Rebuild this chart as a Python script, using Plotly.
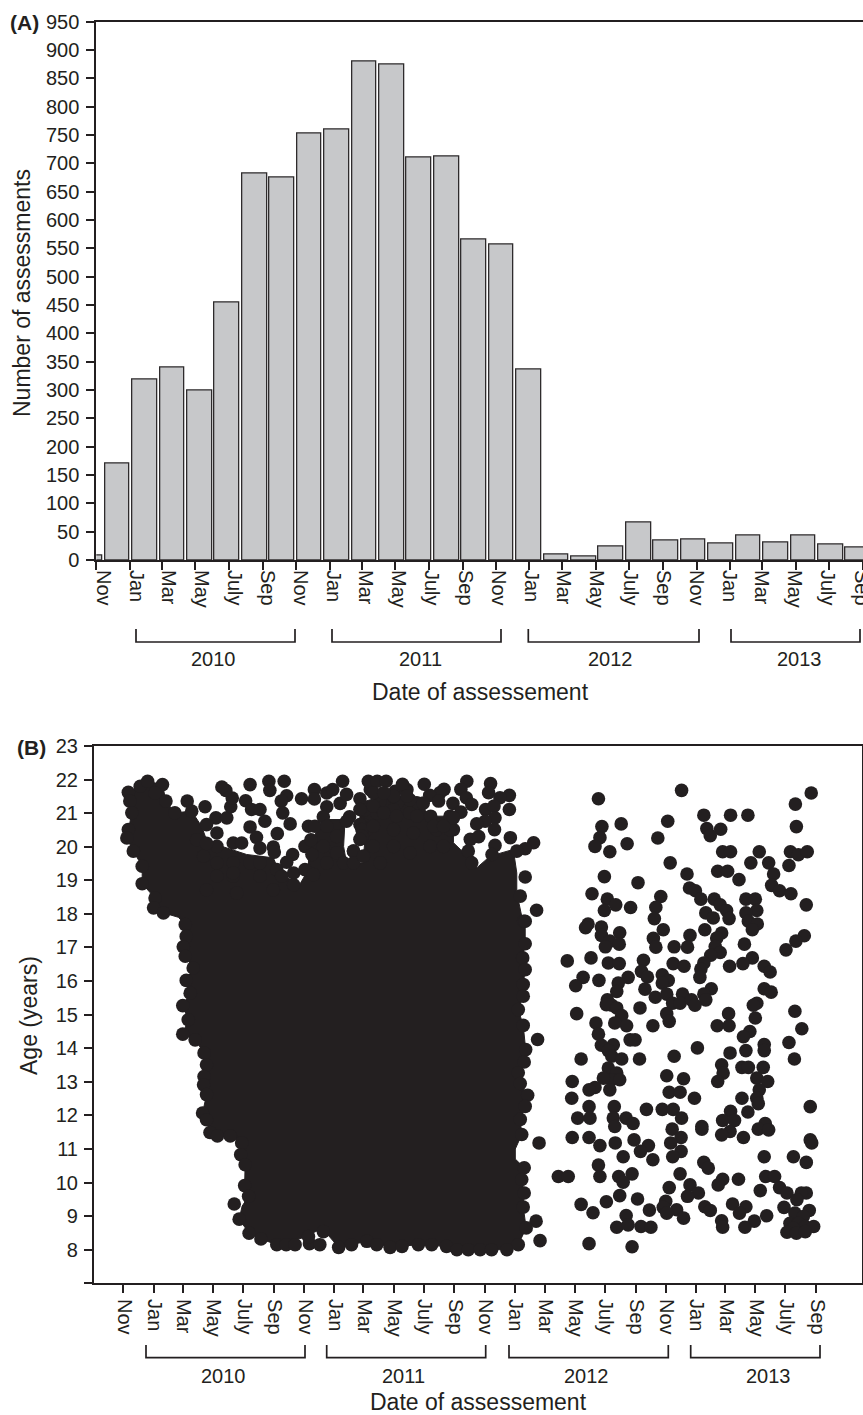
import pandas as pd
import plotly.graph_objects as go

W, H = 863, 1415
INK = "#231f20"
FONT = "Liberation Sans, Arial, sans-serif"

# ---------- Panel A: bars ----------
bar_index = list(range(29))
bar_counts = [8, 170, 318, 340, 299, 455, 682, 675, 752, 760, 880, 875, 710, 712, 566,
              556, 336, 10, 6, 23, 66, 34, 36, 29, 43, 30, 43, 27, 22]

month_tick_dates = ["2009-11-01", "2010-01-01", "2010-03-01", "2010-05-01", "2010-07-01", "2010-09-01",
                    "2010-11-01", "2011-01-01", "2011-03-01", "2011-05-01", "2011-07-01", "2011-09-01",
                    "2011-11-01", "2012-01-01", "2012-03-01", "2012-05-01", "2012-07-01", "2012-09-01",
                    "2012-11-01", "2013-01-01", "2013-03-01", "2013-05-01", "2013-07-01", "2013-09-01"]
month_tick_labels = ["Nov", "Jan", "Mar", "May", "July", "Sep",
                     "Nov", "Jan", "Mar", "May", "July", "Sep",
                     "Nov", "Jan", "Mar", "May", "July", "Sep",
                     "Nov", "Jan", "Mar", "May", "July", "Sep"]
count_ticks = list(range(0, 951, 50))
age_ticks = list(range(7, 24))
age_tick_labels = [""] + [str(a) for a in age_ticks[1:]]

# ---------- Panel B: assessments ----------
# Separately readable points after the dense block: days after 1 Jan 2012, age in years.
sparse_days = [169,337,599,567,382,436,471,309,215,176,569,388,416,172,289,395,227,162,192,420,436,494,557,573,591,
 477,513,314,554,348,410,430,523,181,453,249,519,353,365,535,558,156,376,295,187,403,467,486,415,204,589,285,234,428,181,
 489,467,386,401,282,433,472,148,143,490,175,480,212,384,300,418,175,354,408,585,568,280,464,192,211,322,349,285,548,183,
 405,415,396,106,154,260,189,211,480,320,342,382,461,434,504,376,516,256,374,138,268,298,229,170,209,123,310,298,263,206,
 397,504,518,284,307,187,339,382,386,319,334,357,364,489,482,253,196,185,206,566,125,432,216,307,486,164,
 202,226,279,312,409,433,580,169,475,462,199,175,233,243,554,369,504,504,189,435,467,322,134,196,252,216,565,418,459,472,
 502,189,421,206,307,341,489,410,116,511,196,212,179,162,150,192,494,312,334,115,459,363,489,492,201,597,150,266,298,320,
 436,471,127,152,337,225,199,420,444,239,202,506,378,378,492,318,513,435,418,116,150,462,336,241,203,597,600,172,315,270,
 254,336,219,504,563,319,279,382,391,589,169,334,172,237,210,88,108,507,525,219,420,411,452,354,312,535,496,371,349,550,
 589,579,212,248,305,185,134,570,440,467,384,544,395,300,327,454,272,307,595,158,341,225,418,509,484,566,583,206,229,255,
 275,465,420,556,573,587,604,563,550,569,587,150,237]
sparse_age = [21.43,21.68,21.6,21.27,20.94,20.94,20.94,20.76,20.68,20.6,20.6,20.54,20.52,20.27,20.26,20.33,20.09,20.01,19.85,19.85,19.85,19.85,19.85,19.76,19.85,
 19.52,19.52,19.52,19.44,19.19,19.27,19.27,19.19,19.11,19.02,18.93,18.85,18.77,18.69,18.69,18.6,18.6,18.44,18.52,18.44,18.44,18.44,18.44,18.27,18.27,18.27,18.2,18.19,18.1,18.1,
 18.1,18.03,18.03,17.88,17.86,17.86,17.78,17.7,17.59,17.7,17.61,17.53,17.44,17.53,17.53,17.43,17.36,17.36,17.28,17.35,17.19,17.27,17.1,17.19,17.1,17.02,17.01,17.01,16.93,17.02,
 17.03,16.85,16.77,16.6,16.69,16.62,16.54,16.52,16.69,16.52,16.44,16.54,16.52,16.44,16.44,16.36,16.27,16.29,16.11,16.11,16.12,16.19,16.11,16.02,15.94,15.86,16.02,15.94,15.76,15.69,
 15.77,15.77,15.67,15.52,15.61,15.44,15.61,15.61,15.44,15.34,15.34,15.44,15.28,15.34,15.28,15.2,15.28,15.3,15.2,15.1,15.03,15.03,14.97,15.03,14.9,14.75,
 14.75,14.67,14.67,14.8,14.67,14.67,14.58,14.42,14.5,14.34,14.1,14.09,14.25,14.25,14.17,14.01,14.11,13.93,13.93,13.86,13.93,13.76,13.68,13.76,13.68,13.68,13.68,13.51,13.43,13.43,
 13.43,13.41,13.26,13.26,13.18,13.09,13.11,13.01,13.01,13.01,13.06,13.06,13.11,12.83,12.76,12.76,12.76,12.69,12.69,12.51,12.51,12.51,12.51,12.35,12.26,12.26,12.26,12.18,12.18,12.18,
 12.12,12.1,11.92,11.92,11.92,11.92,11.92,11.85,11.85,11.76,11.67,11.76,11.67,11.59,11.59,11.59,11.57,11.52,11.42,11.34,11.34,11.34,11.34,11.27,11.18,11.27,11.18,11.1,11.18,11.1,
 10.93,10.93,10.77,10.77,10.77,10.77,10.68,10.6,10.43,10.6,10.52,10.26,10.18,10.26,10.18,10.18,10.18,10.18,10.18,10.01,10.1,9.93,10.1,9.93,9.85,9.85,9.76,9.69,9.59,9.69,
 9.69,9.69,9.61,9.51,9.44,9.43,9.35,9.49,9.36,9.28,9.28,9.26,9.17,9.26,9.19,9.09,9.18,9.09,9.17,9.1,8.94,9.02,8.86,9.01,8.85,9.09,8.99,8.67,8.74,8.69,
 8.67,8.67,8.67,8.79,8.79,8.69,8.69,8.64,8.52,8.49,8.54,8.18,8.09]

# Points on the fringe of the dense block: days after 1 Nov 2009, age in years.
fringe_days = [10,13,34,49,79,64,86,17,10,7,20,38,38,64,61,81,104,129,138,165,187,168,209,217,220,207,199,256,247,259,276,
 256,286,269,311,189,222,239,189,276,303,305,342,330,367,381,374,387,379,294,325,296,330,319,322,337,360,386,386,411,423,
 438,411,404,457,499,573,549,
 443,495,513,531,564,608,694,742,648,640,682,738,780,761,451,478,619,637,693,704,666,682,732,749,780,751,731,714,750,701,
 718,782,829,751,745,812,795,812,802,835,809,554,593,660,621,451,485,465,667,697,704,
 812,812,807,812,808,808,798,808,837,813,810,798,802,817,812,802,805,840,810,805,810,808,834,842,814,798,
 125,127,121,125,141,127,135,120,131,120,145,163,168,163,162,168,160,168,175,190,216,239,237,246,245,253,224,234,254,278,
 310,329,347,376,397,374,435,461,404,492,512,539,563,596,623,653,674,697,721,744,775,
 478,411,431,404,431,411,445,492,512,546,579,546,586,505,546,579,633,620,647,660,519,667,465,465,482,482,546,579,519,488,606,
 505,478,526,505,478,485,552,593,573,546,505,526,627,647,
 189,222,162,148,168,256,222,276,310,344,303,222,189,168,229,367,384,344,320,276]
fringe_age = [21.62,21.36,21.8,21.95,21.85,21.6,21.36,21.01,20.51,20.26,19.87,19.42,18.9,18.47,18.18,18.03,21.01,21.36,21.06,21.19,20.86,20.66,20.86,21.19,21.45,21.68,21.78,21.85,21.37,21.11,21.11,
 20.59,20.76,20.28,20.39,20.41,20.11,20.11,20.01,19.96,19.99,19.84,19.77,19.54,20.01,19.77,20.61,20.61,20.21,21.95,21.95,21.68,21.52,21.36,21.01,20.68,21.43,21.7,21.42,21.6,21.7,
 21.29,21.19,20.89,20.89,21.7,21.7,21.65,
 21.95,21.95,21.95,21.95,21.86,21.86,21.95,21.88,21.71,21.61,21.71,21.61,21.53,21.46,21.56,21.43,21.53,21.36,21.46,21.26,21.29,21.03,21.11,21.21,21.11,20.86,20.76,20.68,20.51,20.22,
 20.3,20.27,20.12,20.04,19.77,19.94,19.87,19.1,18.53,18.11,17.78,21.31,21.31,20.91,20.91,20.76,20.66,19.87,20.51,19.87,19.52,
 17.78,17.11,16.69,16.34,15.9,15.55,15.15,14.68,14.26,13.96,13.59,13.27,12.95,12.6,12.27,11.88,11.43,11.18,10.44,10.09,9.69,9.27,8.85,8.27,8.65,8.15,
 17.68,17.33,17.02,16.74,16.39,16.02,15.64,15.27,14.85,14.42,14.25,13.86,13.51,13.16,12.91,12.62,12.07,11.87,11.49,11.39,11.39,11.18,10.83,10.53,9.91,9.59,9.36,8.91,8.49,8.32,
 8.15,8.15,8.15,8.18,8.15,8.39,8.07,8.15,8.54,8.25,8.15,8.07,8.1,8.15,8.15,8.1,8.0,8.0,8.0,8.0,8.0,
 20.66,20.61,20.31,20.01,19.82,19.52,19.52,20.51,21.0,21.1,21.0,20.51,20.41,20.01,20.01,19.82,20.51,20.01,20.01,20.51,19.52,20.86,19.87,19.52,20.51,20.31,21.5,21.4,21.36,21.1,21.3,
 21.21,21.11,21.01,20.61,20.22,19.72,20.91,20.91,21.51,21.51,21.61,21.61,20.61,20.61,
 19.52,19.52,19.72,20.21,20.1,19.52,19.12,19.52,19.32,19.22,18.72,19.22,19.12,18.72,18.62,19.32,19.17,18.87,19.12,19.12]

# The overplotted core cannot be read point by point: its outline (days after 1 Nov 2009, age).
core_days = [10,34,49,79,86,104,138,158,168,189,249,303,313,354,374,374,404,448,445,451,485,485,489,478,478,526,573,606,613,654,667,667,681,707,714,741,788,795,795,805,
 812,812,807,812,808,808,798,808,813,810,798,802,817,812,802,805,792,792,810,805,810,808,814,798,775,680,653,596,539,492,461,435,410,390,376,374,347,329,310,278,254,234,240,253,245,246,237,239,216,190,175,168,160,168,162,163,168,163,145,120,131,120,135,127,141,125,121,127,125,111,81,61,64,38,38,20,7,10,17,13,10]
core_age = [21.62,21.8,21.95,21.85,21.36,21.01,21.06,20.61,20.21,20.06,19.77,19.67,19.32,18.82,19.32,20.01,20.81,20.81,20.01,19.52,19.52,19.72,20.32,20.71,21.31,21.51,21.51,21.31,20.91,20.91,20.51,20.12,19.92,19.72,19.37,19.72,19.92,19.22,18.63,17.93,
 17.78,17.11,16.69,16.34,15.9,15.55,15.15,14.68,13.96,13.59,13.27,12.95,12.6,12.27,11.88,11.43,11.0,10.7,10.44,10.09,9.69,9.27,8.65,8.15,8.0,8.0,8.1,8.15,8.07,8.25,8.15,8.07,8.5,8.55,8.45,8.39,8.3,8.15,8.15,8.32,8.49,8.91,9.3,9.59,9.91,10.53,10.83,11.18,11.39,11.39,11.49,11.87,12.07,12.62,12.91,13.16,13.51,13.86,14.25,14.42,14.85,15.27,15.64,16.02,16.39,16.74,17.02,17.33,17.68,17.9,18.03,18.18,18.47,18.9,19.42,19.87,20.26,20.51,21.01,21.36,21.62]

assert len(sparse_days) == len(sparse_age), (len(sparse_days), len(sparse_age))
assert len(fringe_days) == len(fringe_age), (len(fringe_days), len(fringe_age))
assert len(core_days) == len(core_age), (len(core_days), len(core_age))


def dates_from(base, days):
    return (pd.Timestamp(base) + pd.to_timedelta(days, unit="D")).strftime("%Y-%m-%d").tolist()


points_x = dates_from("2009-11-01", fringe_days) + dates_from("2012-01-01", sparse_days)
points_y = fringe_age + sparse_age
core_x = dates_from("2009-11-01", core_days)

fig = go.Figure()

# invisible carriers so the dated axes of panel A (tick marks, and the labels set slightly off them) exist
for axis_name in ("x", "x4"):
    fig.add_trace(go.Scatter(x=month_tick_dates, y=[0] * len(month_tick_dates), xaxis=axis_name, yaxis="y",
                             mode="markers", marker=dict(opacity=0), hoverinfo="skip", showlegend=False))
fig.add_trace(go.Bar(x=bar_index, y=bar_counts, xaxis="x3", yaxis="y", width=0.9,
                     marker=dict(color="#c7c8ca", line=dict(color="#2e2b2c", width=1.3)),
                     showlegend=False))
fig.add_trace(go.Scatter(x=core_x, y=core_age, xaxis="x2", yaxis="y2", mode="lines", fill="toself",
                         fillcolor=INK, line=dict(color=INK, width=1), hoverinfo="skip", showlegend=False))
fig.add_trace(go.Scatter(x=points_x, y=points_y, xaxis="x2", yaxis="y2", mode="markers",
                         marker=dict(color=INK, size=13.6, line=dict(width=0)), showlegend=False))

axis_common = dict(showgrid=False, zeroline=False, showline=True, linecolor=INK, ticks="outside",
                   tickcolor=INK, ticklen=8, tickwidth=1.5,
                   tickfont=dict(family=FONT, size=20, color=INK))


def yfrac(p):
    return 1 - p / H


A_L, A_R, A_T, A_B = 96.3, 863, 21.5, 560
B_L, B_R, B_T, B_B = 93.7, 861.7, 746, 1283.3

fig.update_layout(
    width=W, height=H, autosize=False, margin=dict(l=0, r=0, t=0, b=0, autoexpand=False),
    paper_bgcolor="white", plot_bgcolor="rgba(0,0,0,0)", bargap=0, showlegend=False,
    xaxis=dict(**axis_common, domain=[A_L / W, A_R / W], anchor="y", type="date",
               range=["2009-11-01", "2013-09-01"], tickmode="array", tickvals=month_tick_dates,
               showticklabels=False, linewidth=2, mirror=True),
    xaxis4=dict(domain=[103 / W, 861.3 / W], anchor="y", type="date", showgrid=False, zeroline=False,
                showline=False, ticks="", ticklen=0, range=["2009-11-01", "2013-09-01"],
                tickmode="array", tickvals=month_tick_dates, ticktext=month_tick_labels, tickangle=90,
                tickfont=dict(family=FONT, size=20, color=INK), ticklabeloverflow="allow",
                ticklabelstandoff=9),
    xaxis3=dict(domain=[A_L / W, A_R / W], anchor="y", overlaying="x", visible=False,
                range=[0.235, 28.18]),
    yaxis=dict(**axis_common, domain=[yfrac(A_B), yfrac(A_T)], anchor="x", range=[0, 950],
               tickmode="array", tickvals=count_ticks, linewidth=2, ticklabelstandoff=3),
    xaxis2=dict(**axis_common, domain=[B_L / W, B_R / W], anchor="y2", type="date",
                range=["2009-09-02", "2013-12-02"], tickmode="array", tickvals=month_tick_dates,
                ticktext=month_tick_labels, tickangle=90, linewidth=1.5, mirror=True,
                ticklabelstandoff=2, ticklabelshift=1),
    yaxis2=dict(**axis_common, domain=[yfrac(B_B), yfrac(B_T)], anchor="x2", range=[7, 23],
                tickmode="array", tickvals=age_ticks, ticktext=age_tick_labels, linewidth=1.5, mirror=True,
                ticklabelstandoff=2),
)

brackets = [
    ("2010", 136, 295, 629, 642, 213, 659), ("2011", 332, 501, 629, 642, 420, 659),
    ("2012", 528.3, 699, 629, 642, 610, 659), ("2013", 731, 860, 629, 642, 799, 659),
    ("2010", 146, 305, 1345, 1357.7, 223.3, 1376), ("2011", 326.7, 485.7, 1345, 1357.7, 403, 1376),
    ("2012", 509, 668.3, 1345, 1357.7, 586.7, 1376), ("2013", 690.7, 820, 1345, 1357.7, 768, 1376),
]
shapes, annos = [], []


def label(text, px, py, size, bold=False, angle=0):
    annos.append(dict(text=f"<b>{text}</b>" if bold else text, xref="paper", yref="paper",
                      x=px / W, y=yfrac(py), xanchor="center", yanchor="middle", showarrow=False,
                      textangle=angle, font=dict(family=FONT, size=size, color=INK)))


for year, x0, x1, y0, y1, lx, ly in brackets:
    shapes.append(dict(type="path", xref="paper", yref="paper", line=dict(color=INK, width=1.7),
                       path=f"M {x0 / W} {yfrac(y0)} L {x0 / W} {yfrac(y1)} L {x1 / W} {yfrac(y1)} L {x1 / W} {yfrac(y0)}"))
    label(year, lx, ly, 20)

label("Date of assessement", 480.5, 691.5, 23)
label("Date of assessement", 478, 1402, 23)
label("Number of assessments", 22, 293, 23, angle=-90)
label("Age (years)", 29, 1016, 23, angle=-90)
label("(A)", 24.5, 23, 21, bold=True)
label("(B)", 31.5, 748, 21, bold=True)

fig.update_layout(shapes=shapes, annotations=annos)

fig.write_html("out.html", config=dict(displayModeBar=False),
               post_script="document.body.style.margin='0';document.body.style.overflow='hidden';")
